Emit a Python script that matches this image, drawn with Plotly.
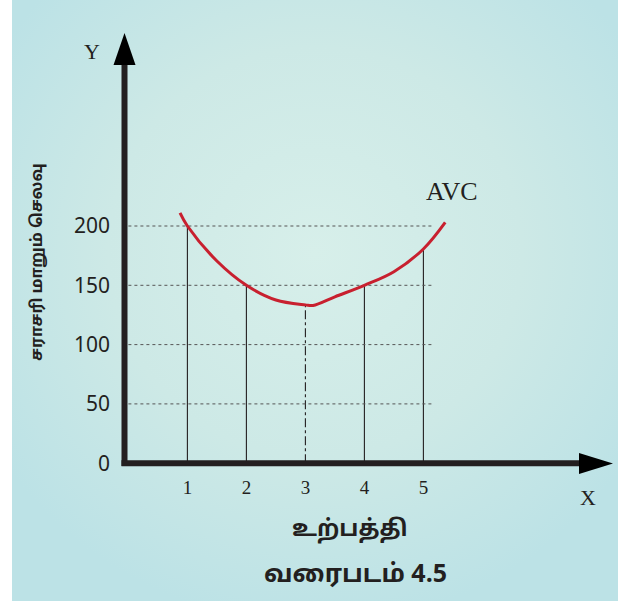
import base64
import plotly.graph_objects as go

# ---------------- data ----------------
curve_output = [0.875, 1, 1.5, 2, 2.5, 3, 3.13, 3.5, 4, 4.5, 5, 5.37]
curve_avc = [211, 200, 170.5, 150, 137.6, 133.5, 133, 140.3, 150, 161.5, 180.6, 203]

drop_output = [1, 2, 3, 4, 5]
drop_avc = [200, 150, 133.5, 150, 181]

y_ticks = [0, 50, 100, 150, 200]
x_ticks = [1, 2, 3, 4, 5]
grid_levels = [50, 100, 150, 200]

curve_label = "AVC"
y_title = "சராசரி மாறும் செலவு"
x_title = "உற்பத்தி"
caption_word = "வரைபடம்"
caption_num = "4.5"

# ---------------- geometry ----------------
W, H = 618, 601
X0_PX, X_SCALE = 128.4, 59.0      # pixel of x=0, pixels per unit
Y0_PX, Y_SCALE = 463.2, 1.186     # pixel of y=0, pixels per unit

x_range = [-X0_PX / X_SCALE, (W - X0_PX) / X_SCALE]
y_range = [(Y0_PX - H) / Y_SCALE, Y0_PX / Y_SCALE]


def px(xp):
    return xp / W


def py(yp):
    return 1 - yp / H


INK = "#231f20"
RED = "#c8202f"

fig = go.Figure()

# vertical drop lines
for q, v in zip(drop_output, drop_avc):
    fig.add_trace(go.Scatter(
        x=[q, q], y=[0, v], mode="lines",
        line=dict(color=INK, width=1.1, dash="dashdot" if q == 3 else "solid"),
        hoverinfo="skip", showlegend=False))

# dotted horizontal guides
for g in grid_levels:
    fig.add_trace(go.Scatter(
        x=[0, 5.15], y=[g, g], mode="lines",
        line=dict(color="#555555", width=1, dash="dot"),
        hoverinfo="skip", showlegend=False))

# AVC curve
fig.add_trace(go.Scatter(
    x=curve_output, y=curve_avc, mode="lines",
    line=dict(color=RED, width=3, shape="spline", smoothing=1.0),
    hoverinfo="skip", showlegend=False))

shapes = []
# y axis line + arrow
shapes.append(dict(type="line", xref="paper", yref="paper",
                   x0=px(124.5), x1=px(124.5), y0=py(466), y1=py(62),
                   line=dict(color=INK, width=6)))
shapes.append(dict(type="path", xref="paper", yref="paper",
                   path=f"M {px(113.5)},{py(65)} L {px(124.5)},{py(33)} L {px(135.5)},{py(65)} Z",
                   fillcolor="black", line=dict(width=0)))
# x axis line + arrow
shapes.append(dict(type="line", xref="paper", yref="paper",
                   x0=px(121.5), x1=px(584), y0=py(463.2), y1=py(463.2),
                   line=dict(color=INK, width=6)))
shapes.append(dict(type="path", xref="paper", yref="paper",
                   path=f"M {px(579)},{py(453)} L {px(613)},{py(463.5)} L {px(579)},{py(474)} Z",
                   fillcolor="black", line=dict(width=0)))

TAMIL = "Noto Sans Tamil, Noto Sans, sans-serif"


def label(text, xp, yp, font, angle=0):
    return dict(text=text, x=px(xp), y=py(yp), xref="paper", yref="paper",
                xanchor="center", yanchor="middle", showarrow=False,
                textangle=angle, font=font)


annotations = [
    label("Y", 92, 51, dict(family="Liberation Serif", size=22, color=INK)),
    label("X", 588, 497, dict(family="Liberation Serif", size=22, color=INK)),
    label(curve_label, 452, 192, dict(family="Liberation Serif", size=26, color=INK)),
    label(f"<b>{y_title}</b>", 38, 262, dict(family=TAMIL, size=16, color=INK), angle=-90),
    label(f"<b>{x_title}</b>", 350, 530, dict(family=TAMIL, size=23, color=INK)),
    label(f"<b>{caption_word}</b> <b><span style='font-size:25px'>{caption_num}</span></b>",
          355, 575, dict(family=TAMIL, size=25, color=INK)),
]

svg = (
    "<svg xmlns='http://www.w3.org/2000/svg' width='606' height='601'>"
    "<defs><radialGradient id='g' cx='0.5' cy='0.42' r='0.62'>"
    "<stop offset='0' stop-color='#d7efea'/>"
    "<stop offset='0.55' stop-color='#cde9e6'/>"
    "<stop offset='1' stop-color='#bce2e6'/>"
    "</radialGradient></defs>"
    "<rect width='606' height='601' fill='url(#g)'/></svg>"
)
bg_src = "data:image/svg+xml;base64," + base64.b64encode(svg.encode()).decode()

fig.update_layout(
    width=W, height=H,
    margin=dict(l=0, r=0, t=0, b=0),
    paper_bgcolor="white",
    plot_bgcolor="rgba(0,0,0,0)",
    shapes=shapes,
    annotations=annotations,
    images=[dict(source=bg_src, xref="paper", yref="paper", x=12 / W, y=1,
                 sizex=(W - 12) / W, sizey=1, sizing="stretch",
                 xanchor="left", yanchor="top", layer="below")],
    xaxis=dict(range=x_range, domain=[0, 1], anchor="free", position=py(466),
               showgrid=False, zeroline=False, showline=False, ticks="",
               tickvals=x_ticks, ticktext=[str(t) for t in x_ticks],
               ticklabelstandoff=8, fixedrange=True,
               tickfont=dict(family="Liberation Serif", size=19, color=INK)),
    yaxis=dict(range=y_range, domain=[0, 1], anchor="free", position=px(121),
               showgrid=False, zeroline=False, showline=False, ticks="",
               tickvals=y_ticks, ticktext=[str(t) for t in y_ticks],
               ticklabelstandoff=11, fixedrange=True,
               tickfont=dict(family="Noto Sans", size=21, color=INK)),
    showlegend=False,
)

fig.write_html(
    "out.html",
    config={"displayModeBar": False},
    post_script="document.body.style.margin='0';document.body.style.overflow='hidden';",
)
